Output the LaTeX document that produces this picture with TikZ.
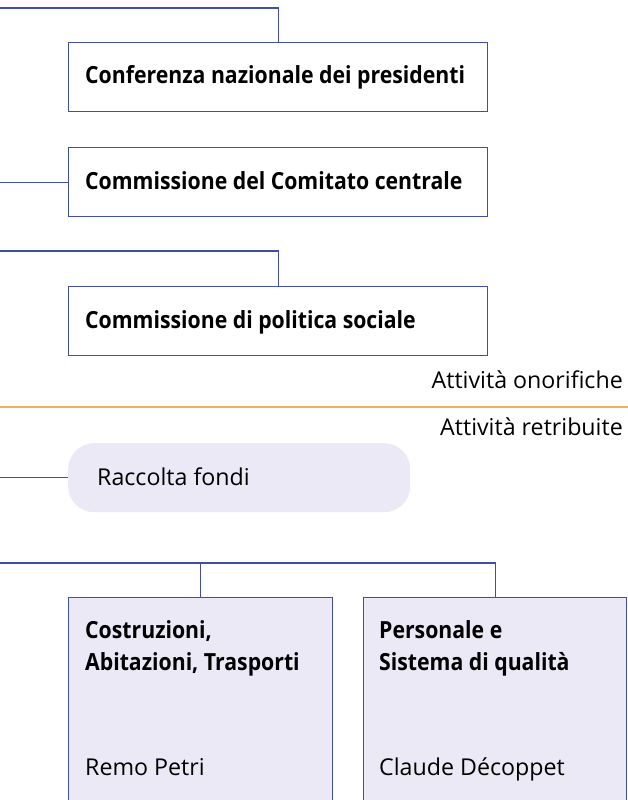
\documentclass[tikz,border=0pt]{standalone}
\usepackage{fontspec}
\setmainfont{Open Sans}[BoldFeatures={FakeStretch=0.9}]
\usetikzlibrary{positioning}
\usetikzlibrary{calc}
\definecolor{orgline}{HTML}{3F4FA6}
\definecolor{orgfill}{HTML}{EAE9F5}
\definecolor{sepline}{HTML}{F6AE5C}
\newcommand{\boxfont}{\fontsize{23.6}{32}\selectfont\bfseries}
\newcommand{\litefont}{\fontsize{23.2}{32}\selectfont}

\begin{document}
\begin{tikzpicture}[x=1pt, y=-1pt,
  link/.style ={
    draw=orgline, line width=1.3pt
  },
  hon/.style={
    rectangle,
    draw=orgline,
    line width=1.4pt,
    minimum width=#1,
    minimum height=69pt,
    inner sep=0pt,
    anchor=north west},
  paid/.style={
    rectangle,
    rounded corners=26pt,
    fill=orgfill,
    minimum width=#1,
    minimum height=69pt,
    inner sep=0pt,
    anchor=north west},
  dept/.style={
    rectangle,
    draw=orgline,
    fill=orgfill,
    line width=1.4pt,
    minimum width=#1,
    minimum height=216pt,
    inner sep=0pt,
    anchor=north west},
  lbl/.style={
    font=\boxfont,
    inner sep=0pt,
    align=left},
  lite/.style={
    font=\litefont,
    inner sep=0pt},
]

  \useasboundingbox (0,0) rectangle (628,800);

  \def\lm{68}%
  \def\boxw{419}%
  \def\txtx{85}%

        % honorary bodies
        \node[hon=\boxw] (cnp) at (\lm, 42) {};
        \node[lbl, anchor=base west] (cnp_t) at (\txtx, 84)
            {Conferenza nazionale dei presidenti};

        \node[hon=\boxw] (ccc) at (\lm, 147) {};
        \node[lbl, anchor=base west] (ccc_t) at (\txtx, 189)
            {Commissione del Comitato centrale};

        \node[hon=\boxw] (cps) at (\lm, 286) {};
        \node[lbl, anchor=base west] (cps_t) at (\txtx, 328)
            {Commissione di politica sociale};

        \node[lite, anchor=base east] (hon_t) at (623, 388)
            {Attività onorifiche};
        \node[lite, anchor=base east] (paid_t) at (623, 435)
            {Attività retribuite};

        % paid activities
        \node[paid=342] (rf) at (\lm, 443) {};
        \node[lite, anchor=base west] (rf_t) at (97, 485)
            {Raccolta fondi};

        \node[dept=264] (cat) at (\lm, 597) {};
        \node[lbl, anchor=base west] (cat_t) at (\txtx, 670)
            {Costruzioni,\\Abitazioni, Trasporti};
        \node[lite, anchor=base west] (cat_n) at (\txtx, 775)
            {Remo Petri};

        \node[dept=263] (psq) at (363, 597) {};
        \node[lbl, anchor=base west] (psq_t) at (379, 670)
            {Personale e\\Sistema di qualità};
        \node[lite, anchor=base west] (psq_n) at (379, 775)
            {Claude Décoppet};

        \coordinate (orig) at (0, 0);
        \coordinate (cnp_in) at (0, 8);
        \coordinate (cps_in) at (0, 251);
        \coordinate (dept_in) at (0, 563);
        \coordinate (sep_l) at (0, 407);
        \coordinate (sep_r) at (628, 407);

        \draw[link] (cnp_in) -| (cnp.north);
        \draw[link] (ccc.west -| orig) -- (ccc.west);
        \draw[link] (cps_in) -| (cps.north);
        \draw[link] (rf.west -| orig) -- (rf.west);
        \draw[link] (dept_in) -| (psq.north);
        \draw[link] (cat.north) -- (cat.north |- dept_in);

        \draw[draw=sepline, line width=1.6pt] (sep_l) -- (sep_r);

\end{tikzpicture}
\end{document}
